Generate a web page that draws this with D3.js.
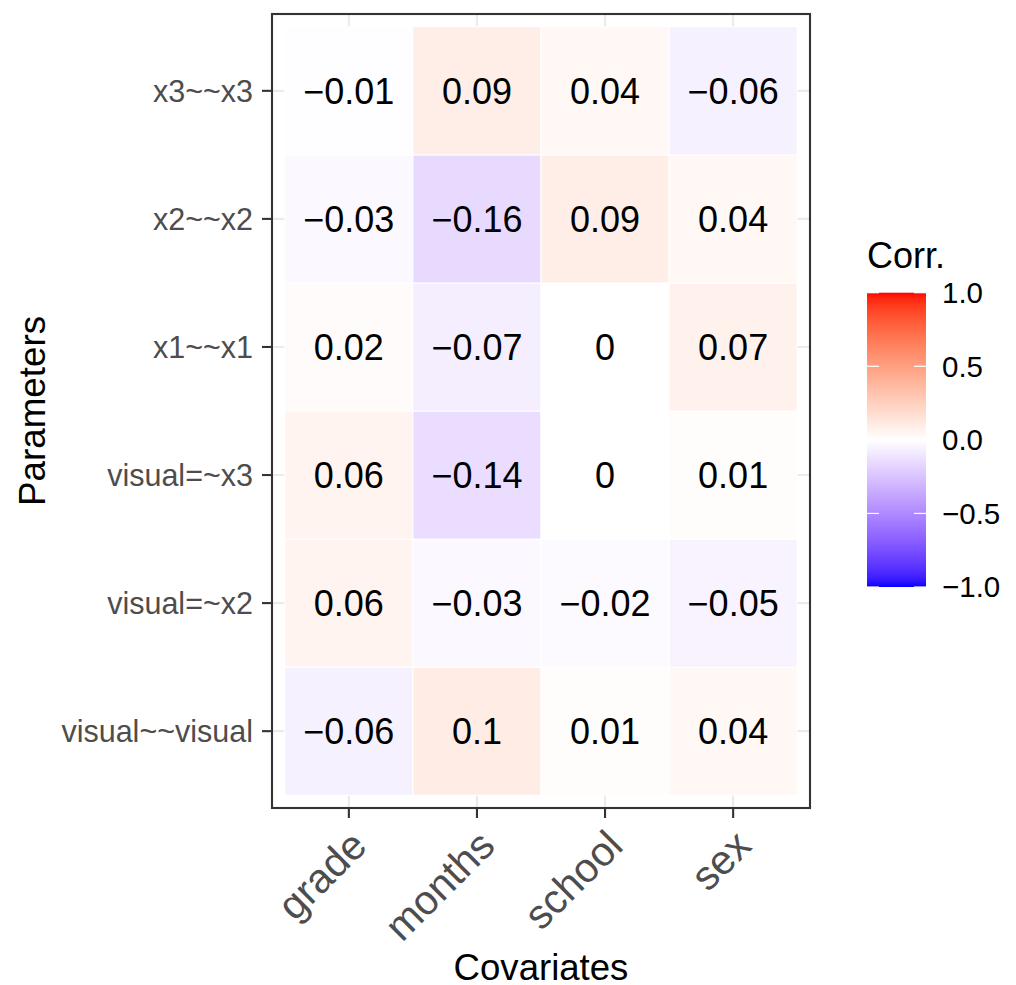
<!DOCTYPE html>
<html>
<head>
<meta charset="utf-8">
<script src="https://cdn.jsdelivr.net/npm/d3@7"></script>
<style>
  html, body { margin: 0; padding: 0; background: #fff; }
  svg { display: block; font-family: "Liberation Sans", Arial, Helvetica, sans-serif; }
</style>
</head>
<body>
<svg id="chart" width="1016" height="985"></svg>
<script>
// ---- data ----
const covariates = ["grade", "months", "school", "sex"];
// bottom-to-top order (first level at bottom, as in ggplot)
const parameters = ["visual~~visual", "visual=~x2", "visual=~x3", "x1~~x1", "x2~~x2", "x3~~x3"];
const gradeVals  = [-0.06, 0.06, 0.06, 0.02, -0.03, -0.01];
const monthsVals = [0.10, -0.03, -0.14, -0.07, -0.16, 0.09];
const schoolVals = [0.01, -0.02, 0.00, 0.00, 0.09, 0.04];
const sexVals    = [0.04, -0.05, 0.01, 0.07, 0.04, -0.06];
const legendTicks = [-1.0, -0.5, 0.0, 0.5, 1.0];

const seriesByCov = { grade: gradeVals, months: monthsVals, school: schoolVals, sex: sexVals };
const cells = [];
covariates.forEach(c => {
  parameters.forEach((p, i) => cells.push({ cov: c, par: p, value: seriesByCov[c][i] }));
});

// ---- layout ----
const svg = d3.select("#chart");
const panel = { left: 272, right: 810, top: 14, bottom: 808 };

const x = d3.scaleBand().domain(covariates)
  .range([panel.left, panel.right]).paddingInner(0).paddingOuter(0.1);
const y = d3.scaleBand().domain(parameters)
  .range([panel.bottom, panel.top]).paddingInner(0).paddingOuter(0.1);

const negInterp = d3.interpolateLab("#ffffff", "#0000ff");
const posInterp = d3.interpolateLab("#ffffff", "#ff0000");
const fill = v => v >= 0 ? posInterp(Math.min(1, v)) : negInterp(Math.min(1, -v));

const fmt = v => {
  const r = Math.round(v * 100) / 100;
  return String(r).replace("-", "\u2212");
};

// panel background
svg.append("rect")
  .attr("x", panel.left).attr("y", panel.top)
  .attr("width", panel.right - panel.left).attr("height", panel.bottom - panel.top)
  .attr("fill", "#ffffff");

// grid lines
const grid = svg.append("g");
covariates.forEach(c => {
  const cx = x(c) + x.bandwidth() / 2;
  grid.append("line").attr("x1", cx).attr("x2", cx)
    .attr("y1", panel.top).attr("y2", panel.bottom)
    .attr("stroke", "#ebebeb").attr("stroke-width", 2.1);
});
parameters.forEach(p => {
  const cy = y(p) + y.bandwidth() / 2;
  grid.append("line").attr("y1", cy).attr("y2", cy)
    .attr("x1", panel.left).attr("x2", panel.right)
    .attr("stroke", "#ebebeb").attr("stroke-width", 2.1);
});

// tiles
svg.append("g").selectAll("rect").data(cells).join("rect")
  .attr("x", d => x(d.cov)).attr("y", d => y(d.par))
  .attr("width", x.bandwidth()).attr("height", y.bandwidth())
  .attr("fill", d => fill(d.value))
  .attr("stroke", "#ffffff").attr("stroke-width", 1);

// tile labels
svg.append("g").selectAll("text").data(cells).join("text")
  .attr("x", d => x(d.cov) + x.bandwidth() / 2)
  .attr("y", d => y(d.par) + y.bandwidth() / 2)
  .attr("dy", "0.355em")
  .attr("text-anchor", "middle")
  .attr("font-size", 36)
  .attr("fill", "#000")
  .text(d => fmt(d.value));

// panel border
svg.append("rect")
  .attr("x", panel.left).attr("y", panel.top)
  .attr("width", panel.right - panel.left).attr("height", panel.bottom - panel.top)
  .attr("fill", "none").attr("stroke", "#333333").attr("stroke-width", 2.1);

// y axis
const yAxis = svg.append("g");
parameters.forEach(p => {
  const cy = y(p) + y.bandwidth() / 2;
  yAxis.append("line").attr("x1", panel.left - 10).attr("x2", panel.left)
    .attr("y1", cy).attr("y2", cy).attr("stroke", "#333333").attr("stroke-width", 2.1);
  yAxis.append("text").attr("x", panel.left - 19).attr("y", cy).attr("dy", "0.35em")
    .attr("text-anchor", "end").attr("font-size", 30.5).attr("fill", "#4d4d4d")
    .text(p);
});

// x axis
const xAxis = svg.append("g");
covariates.forEach(c => {
  const cx = x(c) + x.bandwidth() / 2;
  xAxis.append("line").attr("x1", cx).attr("x2", cx)
    .attr("y1", panel.bottom).attr("y2", panel.bottom + 10)
    .attr("stroke", "#333333").attr("stroke-width", 2.1);
  xAxis.append("text")
    .attr("transform", `translate(${cx + 20},${panel.bottom + 40}) rotate(-45)`)
    .attr("text-anchor", "end").attr("font-size", 41).attr("fill", "#4d4d4d")
    .text(c);
});

// axis titles
svg.append("text")
  .attr("x", (panel.left + panel.right) / 2).attr("y", 980)
  .attr("text-anchor", "middle").attr("font-size", 36.6).attr("fill", "#000")
  .text("Covariates");
svg.append("text")
  .attr("transform", `translate(45,${(panel.top + panel.bottom) / 2}) rotate(-90)`)
  .attr("text-anchor", "middle").attr("font-size", 36.8).attr("fill", "#000")
  .text("Parameters");

// legend
const lg = { x: 867, w: 59, top: 292.7, bottom: 587 };
const ls = d3.scaleLinear().domain([-1, 1]).range([lg.bottom, lg.top]);
const defs = svg.append("defs");
const grad = defs.append("linearGradient").attr("id", "corrGrad")
  .attr("x1", "0").attr("y1", "1").attr("x2", "0").attr("y2", "0");
d3.range(0, 101).forEach(i => {
  const v = -1 + 2 * i / 100;
  grad.append("stop").attr("offset", `${i}%`).attr("stop-color", fill(v));
});
svg.append("rect").attr("x", lg.x).attr("y", lg.top)
  .attr("width", lg.w).attr("height", lg.bottom - lg.top)
  .attr("fill", "url(#corrGrad)");
legendTicks.forEach(t => {
  const ty = ls(t);
  svg.append("line").attr("x1", lg.x).attr("x2", lg.x + 12).attr("y1", ty).attr("y2", ty)
    .attr("stroke", "#ffffff").attr("stroke-width", 1.2);
  svg.append("line").attr("x1", lg.x + lg.w - 12).attr("x2", lg.x + lg.w).attr("y1", ty).attr("y2", ty)
    .attr("stroke", "#ffffff").attr("stroke-width", 1.2);
  svg.append("text").attr("x", 942).attr("y", ty).attr("dy", "0.35em")
    .attr("font-size", 29.5).attr("fill", "#000")
    .text(d3.format(".1f")(t).replace("-", "\u2212"));
});
svg.append("text").attr("x", lg.x).attr("y", 268)
  .attr("font-size", 36).attr("fill", "#000").text("Corr.");
</script>
</body>
</html>
